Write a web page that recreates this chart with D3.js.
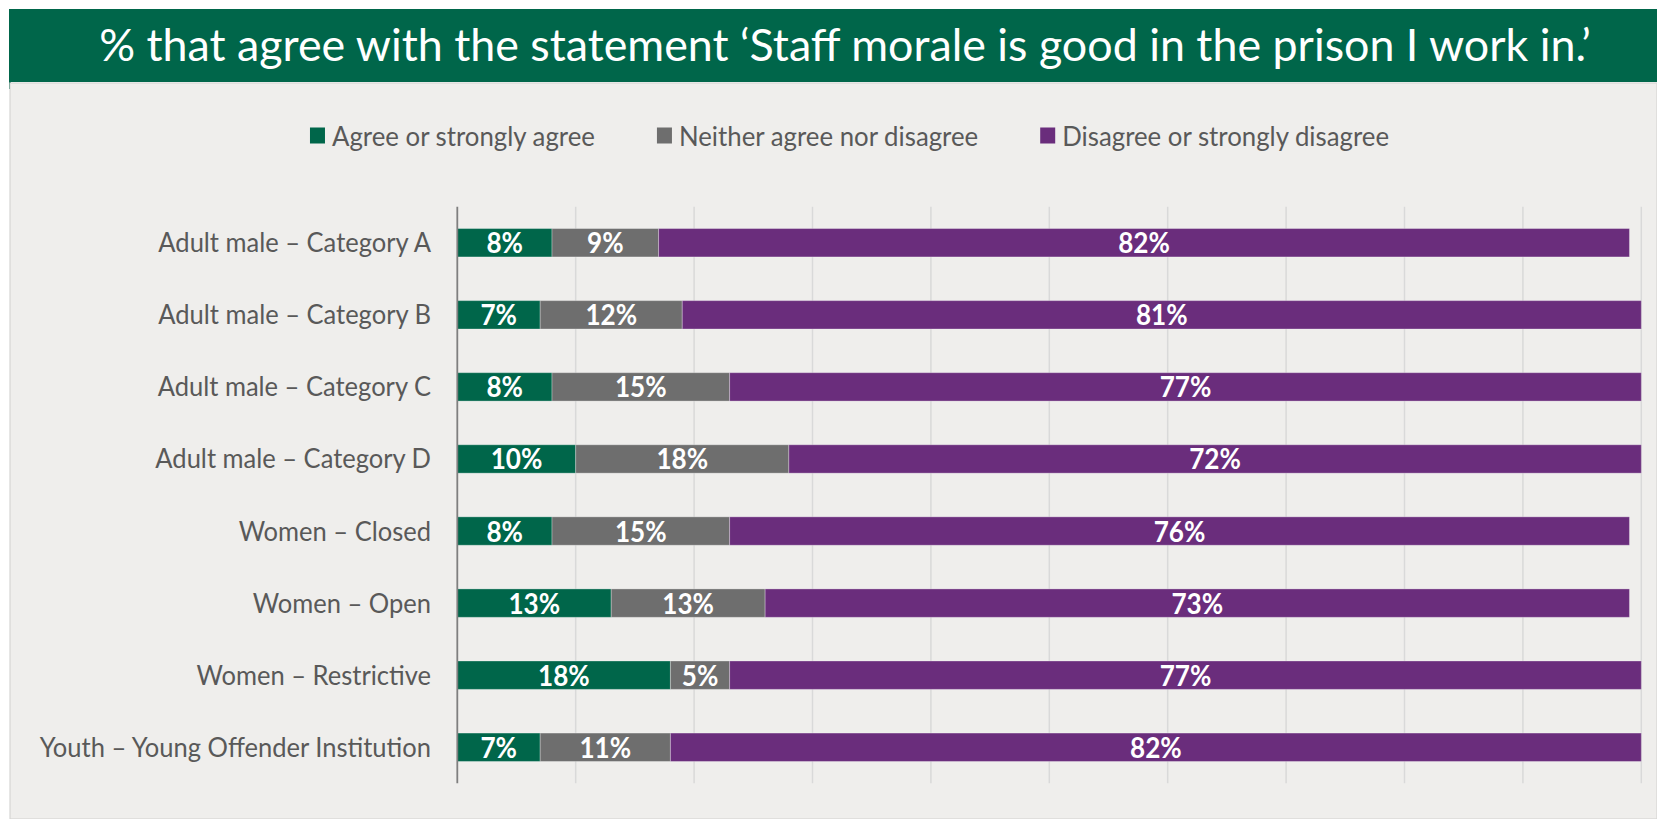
<!DOCTYPE html>
<html>
<head>
<meta charset="utf-8">
<script src="https://cdn.jsdelivr.net/npm/d3@7"></script>
<style>
  html, body { margin: 0; padding: 0; background: #ffffff; }
  svg { display: block; font-family: Lato, "Open Sans", sans-serif; }
</style>
</head>
<body>
<svg id="chart" width="1657" height="819"></svg>
<script>
// ---- data ----
const title = "% that agree with the statement \u2018Staff morale is good in the prison I work in.\u2019";
const categories = [
  "Adult male \u2013 Category A",
  "Adult male \u2013 Category B",
  "Adult male \u2013 Category C",
  "Adult male \u2013 Category D",
  "Women \u2013 Closed",
  "Women \u2013 Open",
  "Women \u2013 Restrictive",
  "Youth \u2013 Young Offender Institution"
];
const seriesNames = ["Agree or strongly agree", "Neither agree nor disagree", "Disagree or strongly disagree"];
const agree    = [8, 7, 8, 10, 8, 13, 18, 7];
const neither  = [9, 12, 15, 18, 15, 13, 5, 11];
const disagree = [82, 81, 77, 72, 76, 73, 77, 82];
const xTicks = [0, 10, 20, 30, 40, 50, 60, 70, 80, 90, 100];

// ---- styling ----
const colors = ["#00664A", "#6E6E6E", "#6A2D7C"];
const textGrey = "#595959";

const svg = d3.select("#chart");
const W = 1657, H = 819;

// squeeze text horizontally to get a narrow, Calibri-like set
function condense(sel, k) {
  sel.each(function () {
    const len = this.getComputedTextLength();
    d3.select(this).attr("textLength", len * k).attr("lengthAdjust", "spacingAndGlyphs");
  });
}

// background panel
svg.append("rect").attr("x", 0).attr("y", 0).attr("width", W).attr("height", H).attr("fill", "#ffffff");
svg.append("rect").attr("x", 9).attr("y", 9).attr("width", 2).attr("height", 80).attr("fill", "#00664A");
svg.append("rect").attr("x", 10).attr("y", 83).attr("width", W - 10).attr("height", H - 83)
  .attr("fill", "#EFEEEC").attr("stroke", "#D6D6D4").attr("stroke-width", 1.2);

// title banner
svg.append("rect").attr("x", 9).attr("y", 9).attr("width", W - 9).attr("height", 73).attr("fill", "#00664A");
svg.append("text")
  .attr("x", 845).attr("y", 61)
  .attr("text-anchor", "middle")
  .attr("fill", "#ffffff")
  .attr("font-size", 45)
  .text(title)
  .call(condense, 0.995);

// ---- scales ----
const plot = { left: 457.3, right: 1641.3, top: 206.7, bottom: 783.3 };
const x = d3.scaleLinear().domain([0, 100]).range([plot.left, plot.right]);
const y = d3.scaleBand().domain(categories).range([plot.top, plot.bottom])
  .paddingInner(0.606).paddingOuter(0.303);

// gridlines
svg.append("g")
  .selectAll("line")
  .data(xTicks.slice(1))
  .join("line")
  .attr("x1", d => x(d)).attr("x2", d => x(d))
  .attr("y1", plot.top).attr("y2", plot.bottom)
  .attr("stroke", "#D9D9D9").attr("stroke-width", 1.5);

// stacked bars
const rows = categories.map((c, i) => ({ cat: c, agree: agree[i], neither: neither[i], disagree: disagree[i] }));
const keys = ["agree", "neither", "disagree"];
const stacked = d3.stack().keys(keys)(rows);

const layers = svg.append("g").selectAll("g")
  .data(stacked)
  .join("g")
  .attr("fill", (d, i) => colors[i]);

layers.selectAll("rect")
  .data(d => d)
  .join("rect")
  .attr("x", d => x(d[0]))
  .attr("y", d => y(d.data.cat))
  .attr("width", d => x(d[1]) - x(d[0]))
  .attr("height", y.bandwidth())
  .attr("stroke", "rgba(255,255,255,0.3)")
  .attr("stroke-width", 1);

// value labels
layers.selectAll("text")
  .data(d => d.map(s => ({ s, v: s[1] - s[0] })))
  .join("text")
  .attr("x", d => (x(d.s[0]) + x(d.s[1])) / 2)
  .attr("y", d => y(d.s.data.cat) + y.bandwidth() / 2 + 10.5)
  .attr("text-anchor", "middle")
  .attr("fill", "#ffffff")
  .attr("font-weight", 700)
  .attr("font-size", 29)
  .text(d => d.v + "%")
  .call(condense, 0.9);

// y axis line
svg.append("line")
  .attr("x1", plot.left).attr("x2", plot.left)
  .attr("y1", plot.top).attr("y2", plot.bottom)
  .attr("stroke", "#7F7F7F").attr("stroke-width", 1.8);

// category labels
svg.append("g").selectAll("text")
  .data(categories)
  .join("text")
  .attr("x", 431)
  .attr("y", d => y(d) + y.bandwidth() / 2 + 9.5)
  .attr("text-anchor", "end")
  .attr("fill", textGrey)
  .attr("font-size", 27)
  .text(d => d)
  .call(condense, 0.945);

// legend
const legend = svg.append("g");
let lx = 0;
seriesNames.forEach((name, i) => {
  const g = legend.append("g").attr("transform", `translate(${lx},0)`);
  g.append("rect").attr("x", 0).attr("y", 127.5).attr("width", 15).attr("height", 16).attr("fill", colors[i]);
  const t = g.append("text")
    .attr("x", 22).attr("y", 145.5)
    .attr("fill", textGrey)
    .attr("font-size", 27)
    .text(name)
    .call(condense, 0.955);
  lx += 22 + (+t.attr("textLength")) + 62;
});
const legendWidth = lx - 62;
legend.attr("transform", `translate(${849.5 - legendWidth / 2},0)`);
</script>
</body>
</html>
